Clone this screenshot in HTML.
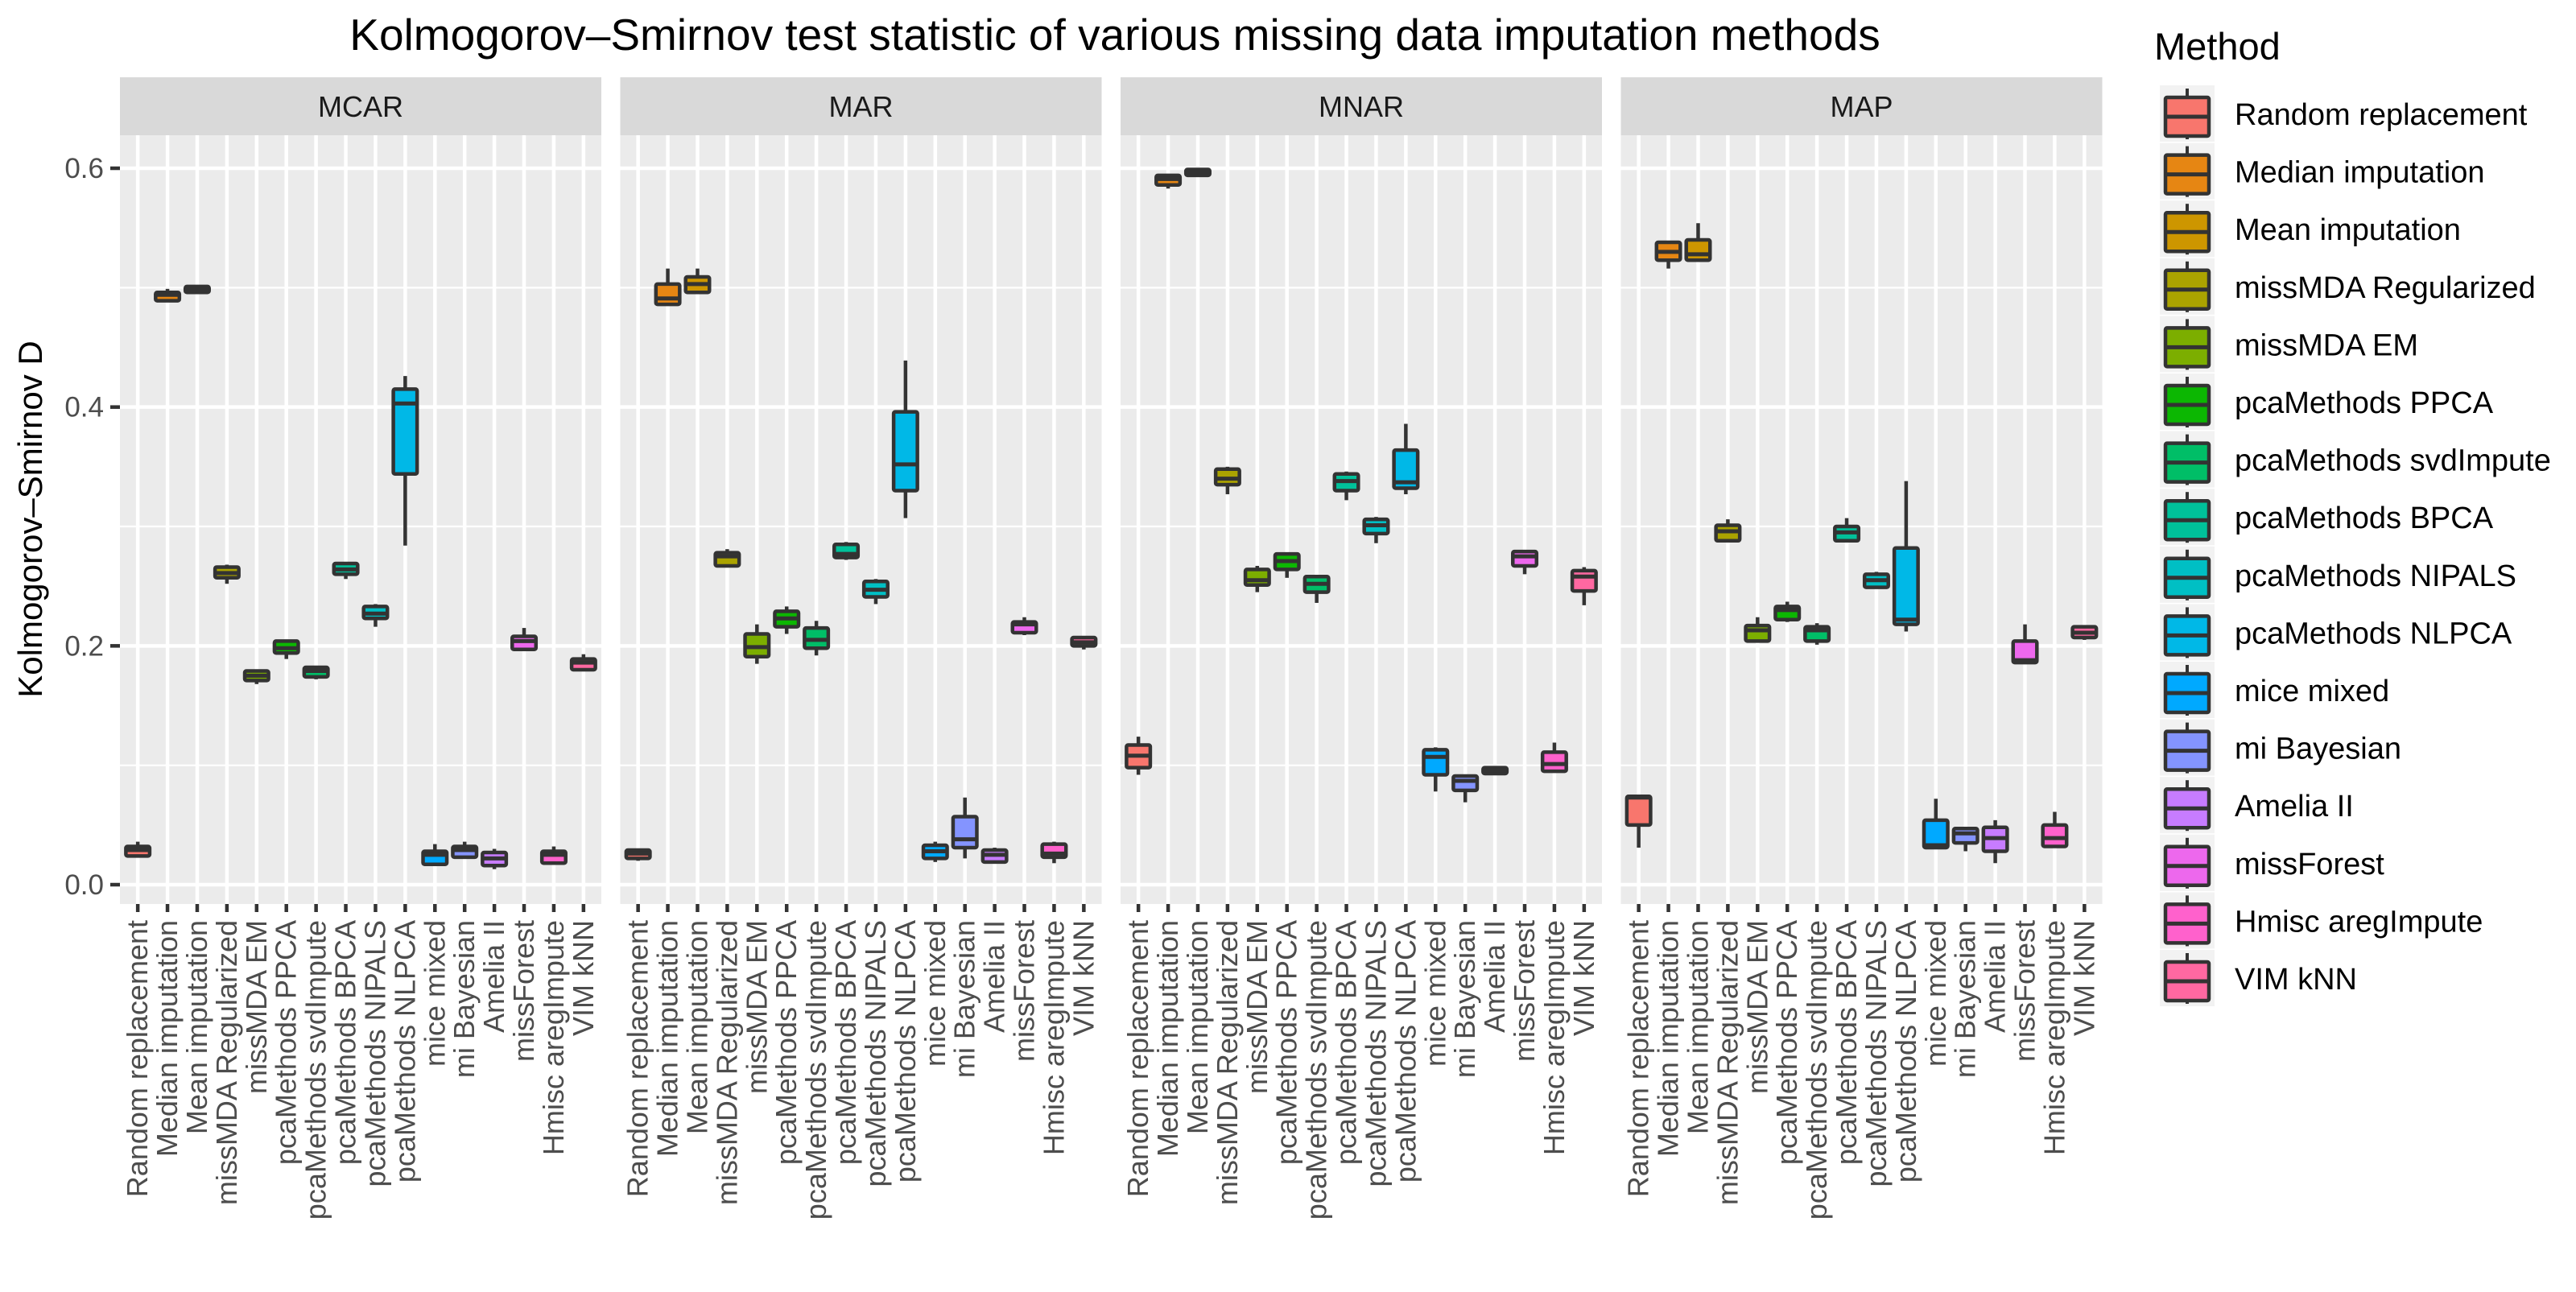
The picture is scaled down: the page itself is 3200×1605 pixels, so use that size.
<!DOCTYPE html>
<html><head><meta charset="utf-8"><style>
html,body{margin:0;padding:0;background:#fff;}
svg text{font-family:"Liberation Sans",Arial,sans-serif;}
</style></head><body>
<svg id="chart" width="3200" height="1600" viewBox="0 0 3200 1600" xmlns="http://www.w3.org/2000/svg">
<text x="1385" y="62" font-size="55" text-anchor="middle" fill="#000">Kolmogorov–Smirnov test statistic of various missing data imputation methods</text>
<text transform="translate(52,645) rotate(-90)" font-size="42" text-anchor="middle" fill="#000">Kolmogorov–Smirnov D</text>
<g id="plot"></g>
<g id="legend"></g>
</svg>
<script>
const methods = ["Random replacement","Median imputation","Mean imputation","missMDA Regularized","missMDA EM","pcaMethods PPCA","pcaMethods svdImpute","pcaMethods BPCA","pcaMethods NIPALS","pcaMethods NLPCA","mice mixed","mi Bayesian","Amelia II","missForest","Hmisc aregImpute","VIM kNN"];
const colors = ["#F8766D","#E68613","#CD9600","#ABA300","#7CAE00","#0CB702","#00BE67","#00C19A","#00BFC4","#00B8E7","#00A9FF","#8494FF","#C77CFF","#ED68ED","#FF61CC","#FF68A1"];
const facets = ["MCAR","MAR","MNAR","MAP"];
const yTicks = [0.0,0.2,0.4,0.6];
const yTickLabels = ["0.0","0.2","0.4","0.6"];
const yMinor = [0.1,0.3,0.5];
// each row: [lowWhisker, q1, median, q3, highWhisker]
const statsMCAR = [[.023,.024,.029,.032,.036],[.488,.489,.494,.496,.499],[.496,.496,.499,.501,.501],[.252,.257,.261,.266,.268],[.168,.171,.175,.179,.179],[.189,.194,.198,.204,.205],[.172,.174,.179,.182,.182],[.256,.260,.264,.269,.269],[.216,.223,.227,.233,.235],[.284,.344,.403,.415,.426],[.017,.017,.025,.028,.034],[.023,.023,.029,.032,.036],[.013,.016,.022,.027,.030],[.197,.197,.204,.208,.215],[.017,.018,.025,.028,.032],[.180,.180,.186,.189,.193]];
const statsMAR = [[.020,.022,.026,.029,.030],[.486,.486,.491,.503,.516],[.496,.496,.503,.509,.516],[.266,.267,.275,.278,.281],[.185,.191,.199,.210,.218],[.210,.216,.223,.229,.233],[.192,.198,.205,.215,.221],[.272,.274,.277,.285,.287],[.235,.241,.247,.254,.256],[.307,.330,.352,.396,.439],[.019,.022,.028,.033,.036],[.022,.031,.038,.057,.073],[.019,.019,.025,.029,.031],[.209,.211,.218,.220,.224],[.018,.023,.026,.034,.036],[.197,.200,.203,.207,.207]];
const statsMNAR = [[.092,.098,.108,.117,.124],[.583,.586,.591,.594,.594],[.594,.594,.597,.599,.599],[.327,.335,.340,.348,.350],[.245,.251,.255,.264,.267],[.257,.264,.271,.277,.277],[.236,.245,.252,.258,.258],[.322,.330,.338,.344,.346],[.286,.294,.301,.306,.308],[.327,.332,.337,.364,.386],[.078,.092,.107,.113,.115],[.069,.079,.087,.091,.091],[.093,.093,.096,.098,.099],[.260,.267,.275,.279,.280],[.094,.095,.101,.111,.119],[.234,.246,.258,.263,.266]];
const statsMAP = [[.031,.050,.073,.074,.074],[.516,.523,.530,.538,.538],[.523,.523,.528,.540,.554],[.288,.288,.296,.301,.306],[.204,.204,.213,.217,.224],[.220,.222,.230,.233,.237],[.201,.204,.213,.216,.219],[.288,.288,.295,.300,.307],[.248,.249,.255,.260,.262],[.212,.218,.222,.282,.338],[.031,.031,.033,.054,.072],[.028,.035,.043,.047,.047],[.018,.028,.039,.048,.054],[.186,.186,.188,.204,.218],[.032,.032,.039,.050,.061],[.205,.207,.211,.216,.216]];
const allStats = [statsMCAR, statsMAR, statsMNAR, statsMAP];

const NS = "http://www.w3.org/2000/svg";
const panelLeft = [149, 770.5, 1392, 2013.5];
const panelW = 598, panelTop = 168, panelBottom = 1123, stripTop = 96;
const y0px = 1099, pxPerUnit = 1483.3;
function yScale(v){ return y0px - v*pxPerUnit; }
function xScale(p,i){ const step = panelW/16.2; return panelLeft[p] + step*(0.6+i); }
function mk(tag, attrs, parent){ const e=document.createElementNS(NS,tag); for(const k in attrs) e.setAttribute(k,attrs[k]); parent.appendChild(e); return e; }
const plot = document.getElementById('plot');
const step = panelW/16.2, bw = step*0.8;

facets.forEach((f,p)=>{
  const g = mk('g',{},plot);
  
  
  const bg = mk('rect',{x:panelLeft[p],y:panelTop,width:panelW,height:panelBottom-panelTop,fill:'#EBEBEB'},g);
  
  
  const st = mk('rect',{x:panelLeft[p],y:stripTop,width:panelW,height:panelTop-stripTop,fill:'#D9D9D9'},g);
  
  
  const stt = mk('text',{x:panelLeft[p]+panelW/2,y:145,'font-size':36,'text-anchor':'middle',fill:'#1A1A1A'},g);
  stt.textContent = f;
  
  
  yMinor.forEach(v=>{ const l=mk('line',{x1:panelLeft[p],x2:panelLeft[p]+panelW,y1:yScale(v),y2:yScale(v),stroke:'#fff','stroke-width':2.2},g);
    
     });
  yTicks.forEach(v=>{ const l=mk('line',{x1:panelLeft[p],x2:panelLeft[p]+panelW,y1:yScale(v),y2:yScale(v),stroke:'#fff','stroke-width':4.5},g);
    
     });
  methods.forEach((m,i)=>{ const x=xScale(p,i);
    const l=mk('line',{x1:x,x2:x,y1:panelTop,y2:panelBottom,stroke:'#fff','stroke-width':4.5},g);
    
    
    const t=mk('line',{x1:x,x2:x,y1:panelBottom,y2:panelBottom+10,stroke:'#333','stroke-width':4.5},g);
    
    
    const tx=mk('text',{transform:`translate(${x+12},${panelBottom+20}) rotate(-90)`,'font-size':36,'text-anchor':'end',fill:'#4D4D4D'},g);
    tx.textContent=m;
    
    
  });
  allStats[p].forEach((s,i)=>{ const x=xScale(p,i);
    const bx = mk('g',{},g);
    
    
    mk('line',{x1:x,x2:x,y1:yScale(s[4]),y2:yScale(s[0]),stroke:'#333','stroke-width':4.5},bx);
    const top=yScale(s[3]), bot=yScale(s[1]);
    mk('rect',{x:x-bw/2,y:top,width:bw,height:Math.max(bot-top,0.5),fill:colors[i],stroke:'#333','stroke-width':4.5,rx:2},bx);
    mk('line',{x1:x-bw/2,x2:x+bw/2,y1:yScale(s[2]),y2:yScale(s[2]),stroke:'#333','stroke-width':5},bx);
  });
});
// y axis
yTicks.forEach((v,k)=>{
  const t=mk('line',{x1:137,x2:149,y1:yScale(v),y2:yScale(v),stroke:'#333','stroke-width':4.5},plot);
  
  
  const tx=mk('text',{x:129,y:yScale(v)+12,'font-size':35,'text-anchor':'end',fill:'#4D4D4D'},plot);
  tx.textContent=yTickLabels[k];
  
  
});
// legend
const lg=document.getElementById('legend');


const lt=mk('text',{x:2676,y:74,'font-size':47,fill:'#000'},lg);
lt.textContent='Method';


methods.forEach((m,i)=>{
  const top=106+i*71.6, kx=2683;
  const e=mk('g',{},lg);
  
  
  mk('rect',{x:kx,y:top,width:68,height:70,fill:'#F2F2F2'},e);
  mk('line',{x1:kx+34,x2:kx+34,y1:top+4,y2:top+67,stroke:'#333','stroke-width':4},e);
  mk('rect',{x:kx+7,y:top+15,width:54,height:48,fill:colors[i],stroke:'#333','stroke-width':4.5,rx:2},e);
  mk('line',{x1:kx+7,x2:kx+61,y1:top+39,y2:top+39,stroke:'#333','stroke-width':5},e);
  const t=mk('text',{x:2776,y:top+49,'font-size':38,fill:'#000'},e);
  t.textContent=m;
});
</script>
</body></html>
